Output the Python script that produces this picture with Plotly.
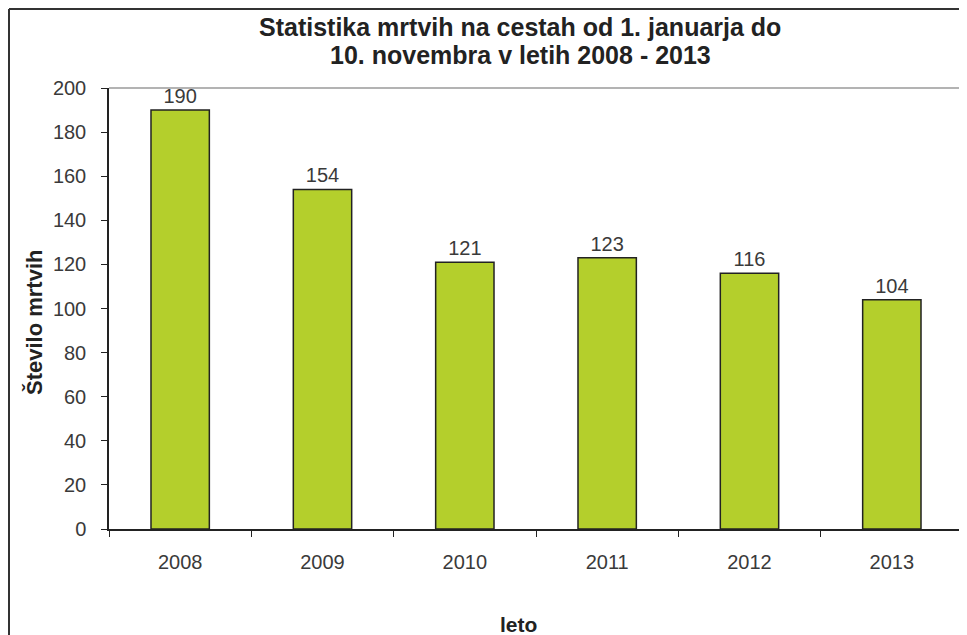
import plotly.graph_objects as go

years = ["2008", "2009", "2010", "2011", "2012", "2013"]
deaths = [190, 154, 121, 123, 116, 104]
y_ticks = [0, 20, 40, 60, 80, 100, 120, 140, 160, 180, 200]

# page body has an 8px margin, so the figure is offset by 8px
OFF = 8
W, H = 967 - OFF, 635 - OFF
L, R, T, B = 109 - OFF, 963 - OFF, 88 - OFF, 529 - OFF
FONT = "Liberation Sans, Arial"

def px(x):  # reference pixel -> paper
    return (x - OFF - L) / (R - L)

def py(y):
    return (B - (y - OFF)) / (B - T)

fig = go.Figure(go.Bar(
    x=years, y=deaths,
    marker=dict(color="#b4cf2c", line=dict(color="#222222", width=1.5)),
    width=0.41,
    text=[str(v) for v in deaths], textposition="outside",
    textfont=dict(family=FONT, size=20, color="#3a3a3a"),
    cliponaxis=False,
))

fig.update_layout(
    width=W, height=H,
    margin=dict(l=L, r=W - R, t=T, b=H - B),
    paper_bgcolor="white", plot_bgcolor="white",
    showlegend=False,
    font=dict(family=FONT, color="#3a3a3a"),
)
fig.update_xaxes(
    type="category", showline=True, linecolor="#222222", linewidth=1.5,
    ticks="outside", tickson="boundaries", ticklen=6, tickcolor="#222222",
    tickfont=dict(size=20, color="#3a3a3a"), ticklabelstandoff=14,
    showgrid=False, zeroline=False,
)
fig.update_yaxes(
    range=[0, 200], tickvals=y_ticks, showline=True, linecolor="#222222", linewidth=1.5,
    ticks="outside", ticklen=6, tickcolor="#222222",
    tickfont=dict(size=20, color="#3a3a3a"), ticklabelstandoff=11,
    showgrid=False, zeroline=False,
)

# plot area frame (top, right) in gray
fig.add_shape(type="line", xref="paper", yref="paper", x0=0, x1=1, y0=1, y1=1,
              line=dict(color="#9a9a9a", width=1.5))
fig.add_shape(type="line", xref="paper", yref="paper", x0=1, x1=1, y0=0, y1=1,
              line=dict(color="#9a9a9a", width=1.5))
# outer chart border (top, left)
fig.add_shape(type="line", xref="paper", yref="paper", x0=px(9), x1=px(990), y0=py(9), y1=py(9),
              line=dict(color="#333333", width=2))
fig.add_shape(type="line", xref="paper", yref="paper", x0=px(9), x1=px(9), y0=py(9), y1=py(660),
              line=dict(color="#333333", width=2))

title_lines = ["Statistika mrtvih na cestah od 1. januarja do",
               "10. novembra v letih 2008 - 2013"]
for line, yc in zip(title_lines, [27, 55]):
    fig.add_annotation(
        text="<b>" + line + "</b>",
        xref="paper", yref="paper", x=px(520), y=py(yc), showarrow=False,
        font=dict(family=FONT, size=25, color="#222222"),
        xanchor="center", yanchor="middle",
    )
fig.add_annotation(
    text="<b>Število mrtvih</b>", textangle=-90,
    xref="paper", yref="paper", x=px(34), y=py(323), showarrow=False,
    font=dict(family=FONT, size=22, color="#222222"),
    xanchor="center", yanchor="middle",
)
fig.add_annotation(
    text="<b>leto</b>",
    xref="paper", yref="paper", x=px(518), y=py(624), showarrow=False,
    font=dict(family=FONT, size=21, color="#222222"),
    xanchor="center", yanchor="middle",
)

fig.write_html("out.html")
